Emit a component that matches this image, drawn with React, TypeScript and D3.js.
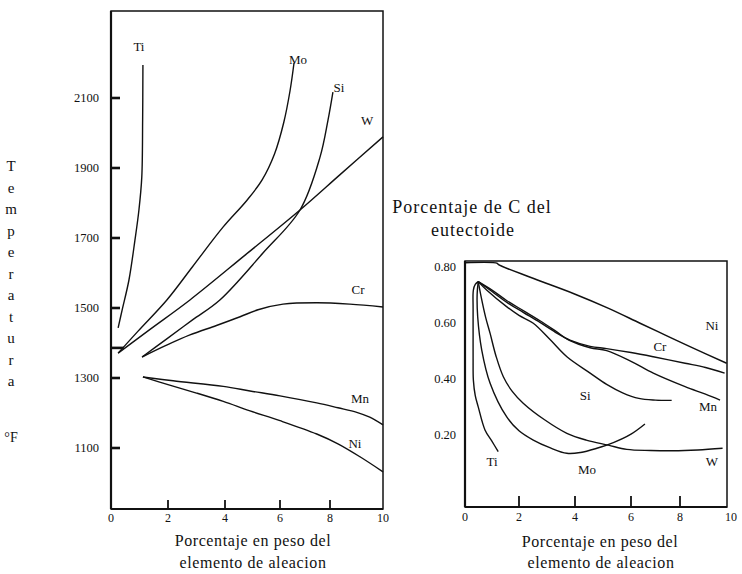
import { scaleLinear, line, curveCatmullRom } from "d3";

type Pt = [number, number];

// eje x común: porcentaje en peso del elemento de aleación
const pctTicks = [0, 2, 4, 6, 8, 10];
const pctInnerTicks = [2, 4, 6, 8];

// gráfico izquierdo: temperatura eutectoide (°F)
const tempTicks = [2100, 1900, 1700, 1500, 1300, 1100];
const tempBase: Pt[] = [[0, 1386], [0.45, 1386]];
const tempTi: Pt[] = [[0.25, 1443], [0.39, 1494], [0.63, 1580], [0.84, 1694], [0.98, 1780], [1.08, 1874], [1.11, 2037], [1.12, 2194]];
const tempMo: Pt[] = [[0.25, 1371], [0.95, 1434], [1.96, 1523], [2.86, 1618], [3.93, 1731], [4.8, 1808], [5.35, 1866], [5.8, 1940], [6.15, 2030], [6.4, 2120], [6.56, 2200]];
const tempW: Pt[] = [[0.25, 1371], [1.37, 1439], [2.77, 1523], [4.73, 1651], [6.8, 1780], [8.38, 1881], [10, 1989]];
const tempSi: Pt[] = [[1.09, 1360], [1.91, 1409], [2.86, 1466], [3.82, 1523], [5.38, 1657], [6.8, 1780], [7.6, 1931], [7.92, 2037], [8.11, 2117]];
const tempCr: Pt[] = [[1.09, 1360], [1.93, 1393], [2.77, 1423], [3.7, 1450], [4.55, 1475], [5.2, 1495], [6.12, 1511], [7.48, 1515], [8.75, 1511], [10, 1503]];
const tempMn: Pt[] = [[1.12, 1303], [2.18, 1292], [3.94, 1276], [4.91, 1263], [6, 1249], [7.47, 1229], [8.3, 1215], [9.01, 1202], [9.5, 1188], [10, 1166]];
const tempNi: Pt[] = [[1.12, 1303], [2.0, 1281], [3.0, 1257], [3.94, 1233], [4.91, 1206], [6, 1178], [7.47, 1140], [8.3, 1112], [9.13, 1075], [10, 1032]];
const tempLabels: [string, number, number][] = [
  ["Ti", 0.98, 2246], ["Mo", 6.72, 2209], ["Si", 8.34, 2129], ["W", 9.4, 2037],
  ["Cr", 9.06, 1554], ["Mn", 9.13, 1243], ["Ni", 8.94, 1114],
];

// gráfico derecho: porcentaje de C del eutectoide
const carbonTicks = [0.8, 0.6, 0.4, 0.2];
const carbonNi: Pt[] = [[0, 0.812], [1.2, 0.81], [1.23, 0.806], [2.5, 0.757], [3.94, 0.703], [5.2, 0.65], [6.37, 0.597], [7.4, 0.555], [8.39, 0.514], [9.83, 0.455]];
const carbonTi: Pt[] = [[0.49, 0.745], [0.38, 0.735], [0.31, 0.715], [0.3, 0.65], [0.3, 0.562], [0.3, 0.47], [0.31, 0.395], [0.38, 0.34], [0.49, 0.3], [0.74, 0.218], [0.99, 0.179], [1.23, 0.141]];
const carbonMo: Pt[] = [[0.49, 0.745], [0.45, 0.7], [0.47, 0.62], [0.62, 0.502], [0.93, 0.384], [1.54, 0.265], [2.0, 0.215], [2.51, 0.182], [3.1, 0.155], [3.71, 0.135], [4.2, 0.138], [4.78, 0.153], [5.37, 0.173], [6.0, 0.203], [6.57, 0.239]];
const carbonW: Pt[] = [[0.49, 0.745], [0.6, 0.69], [0.76, 0.62], [0.93, 0.561], [1.15, 0.48], [1.42, 0.407], [1.75, 0.355], [2.15, 0.313], [2.9, 0.255], [3.71, 0.206], [4.4, 0.182], [5.19, 0.164], [5.85, 0.149], [6.8, 0.145], [7.71, 0.144], [8.7, 0.147], [9.67, 0.153]];
const carbonSi: Pt[] = [[0.49, 0.745], [0.8, 0.715], [1.54, 0.656], [2.0, 0.625], [2.51, 0.597], [3.1, 0.54], [3.71, 0.478], [4.54, 0.42], [5.13, 0.38], [5.7, 0.35], [6.32, 0.33], [7.0, 0.324], [7.66, 0.323]];
const carbonCr: Pt[] = [[0.49, 0.745], [1.0, 0.71], [1.54, 0.672], [2.15, 0.636], [2.75, 0.6], [3.3, 0.565], [3.82, 0.537], [4.54, 0.515], [5.13, 0.507], [6.0, 0.493], [6.91, 0.478], [8.2, 0.455], [9.0, 0.44], [9.75, 0.42]];
const carbonMn: Pt[] = [[0.49, 0.745], [1.0, 0.715], [1.54, 0.678], [2.15, 0.642], [2.75, 0.606], [3.3, 0.57], [3.82, 0.535], [4.54, 0.51], [5.13, 0.5], [6.0, 0.462], [6.91, 0.42], [8.2, 0.372], [9.0, 0.345], [9.57, 0.324]];
const carbonLabels: [string, number, number][] = [
  ["Ni", 9.25, 0.588], ["Cr", 7.18, 0.513], ["Si", 4.36, 0.339], ["Mn", 9.1, 0.303],
  ["Ti", 1.0, 0.105], ["Mo", 4.43, 0.076], ["W", 9.25, 0.105],
];

const yTitle = ["T", "e", "m", "p", "e", "r", "a", "t", "u", "r", "a"];

const FONT = "'Liberation Serif', 'Times New Roman', serif";
const INK = "#111";

export default function App() {
  const width = 742;
  const height = 574;

  // scanned axes are slightly uneven, so the tick positions are kept as read
  const xL = scaleLinear().domain(pctTicks).range([111, 168, 225, 280, 330, 383]);
  const yL = scaleLinear().domain([920, 2350]).range([511, 10.5]);
  const xR = scaleLinear().domain(pctTicks).range([465, 519, 575, 631, 680, 731]);
  const yR = scaleLinear().domain([-0.06, 0.82]).range([508.2, 260.5]);

  const left = { x0: 111, x1: 383, y0: 11, y1: 509 };
  const right = { x0: 465, x1: 727, y0: 261, y1: 507 };

  const pathL = line<Pt>().x((d) => xL(d[0])).y((d) => yL(d[1])).curve(curveCatmullRom.alpha(0.5));
  const pathR = line<Pt>().x((d) => xR(d[0])).y((d) => yR(d[1])).curve(curveCatmullRom.alpha(0.5));

  const tempCurves = [tempTi, tempMo, tempW, tempSi, tempCr, tempMn, tempNi];
  const carbonCurves = [carbonNi, carbonTi, carbonMo, carbonW, carbonSi, carbonCr, carbonMn];

  return (
    <svg
      width={width}
      height={height}
      viewBox={`0 0 ${width} ${height}`}
      style={{ position: "absolute", left: 0, top: 0, background: "#fff" }}
      fontFamily={FONT}
    >
      {/* ---------- left chart ---------- */}
      <rect x={left.x0} y={left.y0} width={left.x1 - left.x0} height={left.y1 - left.y0}
        fill="none" stroke={INK} strokeWidth={1.5} />
      <line x1={left.x0} x2={left.x0} y1={left.y0} y2={left.y1} stroke={INK} strokeWidth={2.2} />
      <line x1={left.x0} x2={left.x1} y1={left.y1} y2={left.y1} stroke={INK} strokeWidth={2.2} />

      {tempTicks.map((t) => (
        <g key={t}>
          <line x1={left.x0} x2={left.x0 + 9} y1={yL(t)} y2={yL(t)} stroke={INK} strokeWidth={2.6} />
          <text x={99} y={yL(t)} dy="0.35em" textAnchor="end" fontSize={12.5} fill={INK}>{t}</text>
        </g>
      ))}
      {pctInnerTicks.map((t) => (
        <line key={t} x1={xL(t)} x2={xL(t)} y1={left.y1} y2={left.y1 - 9} stroke={INK} strokeWidth={1.8} />
      ))}
      {pctTicks.map((t) => (
        <text key={t} x={xL(t)} y={518} dy="0.35em" textAnchor="middle" fontSize={12} fill={INK}>{t}</text>
      ))}

      <path d={pathL(tempBase) ?? ""} fill="none" stroke={INK} strokeWidth={2.6} />
      {tempCurves.map((c, i) => (
        <path key={i} d={pathL(c) ?? ""} fill="none" stroke={INK} strokeWidth={1.4} />
      ))}
      {tempLabels.map(([n, p, v]) => (
        <text key={n} x={xL(p)} y={yL(v)} dy="0.35em" textAnchor="middle" fontSize={13} fill={INK}>{n}</text>
      ))}

      {yTitle.map((ch, i) => (
        <text key={i} x={11} y={166 + i * 21.5} dy="0.35em" textAnchor="middle" fontSize={15} fill={INK}>{ch}</text>
      ))}
      <text x={11} y={437} dy="0.35em" textAnchor="middle" fontSize={14} fill={INK}>°F</text>

      <text x={253} y={540} dy="0.35em" textAnchor="middle" fontSize={16} letterSpacing={0.6} fill={INK}>
        Porcentaje en peso del
      </text>
      <text x={253} y={562} dy="0.35em" textAnchor="middle" fontSize={16} letterSpacing={0.6} fill={INK}>
        elemento de aleacion
      </text>

      {/* ---------- right chart ---------- */}
      <text x={472} y={207} dy="0.35em" textAnchor="middle" fontSize={18} letterSpacing={1} fill={INK}>
        Porcentaje de C del
      </text>
      <text x={473} y={230} dy="0.35em" textAnchor="middle" fontSize={18} letterSpacing={1} fill={INK}>
        eutectoide
      </text>

      <rect x={right.x0} y={right.y0} width={right.x1 - right.x0} height={right.y1 - right.y0}
        fill="none" stroke={INK} strokeWidth={1.5} />
      <line x1={right.x0} x2={right.x0} y1={right.y0} y2={right.y1} stroke={INK} strokeWidth={2.2} />
      <line x1={right.x0} x2={right.x1} y1={right.y1} y2={right.y1} stroke={INK} strokeWidth={2.2} />

      {carbonTicks.map((t) => (
        <text key={t} x={456} y={yR(t)} dy="0.35em" textAnchor="end" fontSize={12.5} fill={INK}>
          {t.toFixed(2)}
        </text>
      ))}
      {pctInnerTicks.map((t) => (
        <line key={t} x1={xR(t)} x2={xR(t)} y1={right.y1} y2={right.y1 - 11} stroke={INK} strokeWidth={1.8} />
      ))}
      {pctTicks.map((t) => (
        <text key={t} x={xR(t)} y={517} dy="0.35em" textAnchor="middle" fontSize={12} fill={INK}>{t}</text>
      ))}

      {carbonCurves.map((c, i) => (
        <path key={i} d={pathR(c) ?? ""} fill="none" stroke={INK} strokeWidth={i === 0 ? 1.5 : 1.4} />
      ))}
      {carbonLabels.map(([n, p, v]) => (
        <text key={n} x={xR(p)} y={yR(v)} dy="0.35em" textAnchor="middle" fontSize={13} fill={INK}>{n}</text>
      ))}

      <text x={600} y={541} dy="0.35em" textAnchor="middle" fontSize={16} letterSpacing={0.6} fill={INK}>
        Porcentaje en peso del
      </text>
      <text x={601} y={562} dy="0.35em" textAnchor="middle" fontSize={16} letterSpacing={0.6} fill={INK}>
        elemento de aleacion
      </text>
    </svg>
  );
}
